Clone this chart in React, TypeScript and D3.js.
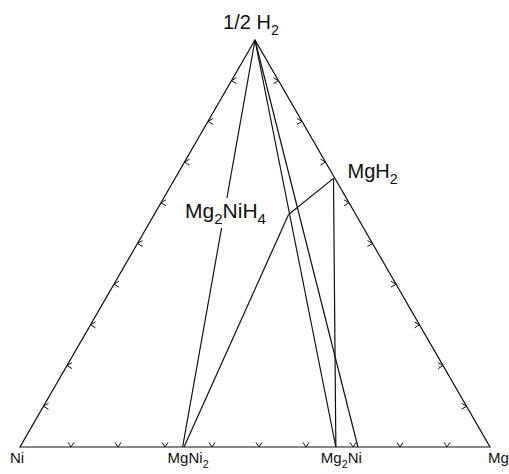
import React from "react";
import * as d3 from "d3";

// Vertex labels
const vertexLabels = ["Ni", "Mg", "1/2 H2"];
// Compounds on the Ni–Mg base (Mg fraction as read)
const baseCompounds = ["MgNi2", "Mg2Ni"];
const baseCompoundMg = [0.346, 0.672];
// Hydrides [Mg fraction, H fraction]
const hydrides = ["Mg2NiH4", "MgH2"];
const hydrideMg = [2 / 7, 0.337];
const hydrideH = [4 / 7, 0.66];
// Tie lines: [startMg, startH, endMg, endH]
const tieStartMg = [0, 0, 0, 0.349, 2 / 7, 0.337];
const tieStartH = [1, 1, 1, 0, 4 / 7, 0.66];
const tieEndMg = [0.346, 0.672, 0.719, 2 / 7, 0.337, 0.672];
const tieEndH = [0, 0, 0, 4 / 7, 0.66, 0];
// Tick fractions along each edge
const ticks = [0.1, 0.2, 0.3, 0.4, 0.5, 0.6, 0.7, 0.8, 0.9];

const W = 509;
const H = 474;
const sx = d3.scaleLinear().domain([0, 1]).range([20, 490]);
const sy = d3.scaleLinear().domain([0, 1]).range([447, 40]);
const px = (mg: number, h: number) => sx(mg + h / 2);
const py = (h: number) => sy(h);

const FONT = "Liberation Sans, Arial, Helvetica, sans-serif";

// Renders a chemical formula with digits following letters as subscripts
function formula(text: string, size: number) {
  const parts: React.ReactNode[] = [];
  const re = /(\d+)|([^\d]+)/g;
  let m: RegExpExecArray | null;
  let i = 0;
  let prevSub = false;
  while ((m = re.exec(text))) {
    const prevChar = m.index > 0 ? text[m.index - 1] : "";
    if (m[1] && /[A-Za-z]/.test(prevChar)) {
      parts.push(
        <tspan key={i} dy={size * 0.3} fontSize={size * 0.72}>
          {m[1]}
        </tspan>
      );
      prevSub = true;
    } else {
      parts.push(
        <tspan key={i} dy={prevSub ? -size * 0.3 : 0}>
          {m[0]}
        </tspan>
      );
      prevSub = false;
    }
    i++;
  }
  return parts;
}

export default function App() {
  const A: [number, number] = [px(0, 0), py(0)];
  const B: [number, number] = [px(1, 0), py(0)];
  const C: [number, number] = [px(0, 1), py(1)];
  const tri = d3.line()([A, B, C]) + "Z";

  const stroke = "#111";
  const sw = 1.2;
  const a = 5;

  const baseTicks = ticks.map((t) => {
    const x = px(t, 0) + 4;
    const y = py(0);
    return `M${x - 3},${y - 4.5}L${x},${y}L${x + 3},${y - 4.5}`;
  });
  const leftTicks = ticks.map((t) => {
    const x = px(0, t);
    const y = py(t);
    return `M${x + a},${y - 3}L${x},${y}L${x + a},${y + 3}`;
  });
  const rightTicks = ticks.map((t) => {
    const x = px(1 - t, t);
    const y = py(t);
    return `M${x - a},${y - 3}L${x},${y}L${x - a},${y + 3}`;
  });

  return (
    <svg width={W} height={H} style={{ position: "absolute", left: 0, top: 0, background: "#fff" }}>
      <path d={tri} fill="none" stroke={stroke} strokeWidth={sw} strokeLinejoin="miter" />
      {tieStartMg.map((_, i) => (
        <line
          key={i}
          x1={px(tieStartMg[i], tieStartH[i])}
          y1={py(tieStartH[i])}
          x2={px(tieEndMg[i], tieEndH[i])}
          y2={py(tieEndH[i])}
          stroke={stroke}
          strokeWidth={sw}
        />
      ))}
      {[...baseTicks, ...leftTicks, ...rightTicks].map((d, i) => (
        <path key={i} d={d} fill="none" stroke={stroke} strokeWidth={1} />
      ))}
      <g fontFamily={FONT} fill="#111">
        <text x={px(0, 1) - 4} y={29} textAnchor="middle" fontSize={20}>
          {formula(vertexLabels[2], 20)}
        </text>
        <text x={10} y={463} fontSize={15}>
          {vertexLabels[0]}
        </text>
        <text x={488} y={463} fontSize={15}>
          {vertexLabels[1]}
        </text>
        {baseCompounds.map((c, i) => (
          <text key={c} x={px(baseCompoundMg[i], 0) - 15} y={463} fontSize={15}>
            {formula(c, 15)}
          </text>
        ))}
        <rect x={184} y={198} width={84} height={30} fill="#fff" />
        <text x={185} y={218} fontSize={21}>
          {formula(hydrides[0], 21)}
        </text>
        <text x={px(hydrideMg[1], hydrideH[1]) + 14} y={py(hydrideH[1])} fontSize={20}>
          {formula(hydrides[1], 20)}
        </text>
      </g>
    </svg>
  );
}
